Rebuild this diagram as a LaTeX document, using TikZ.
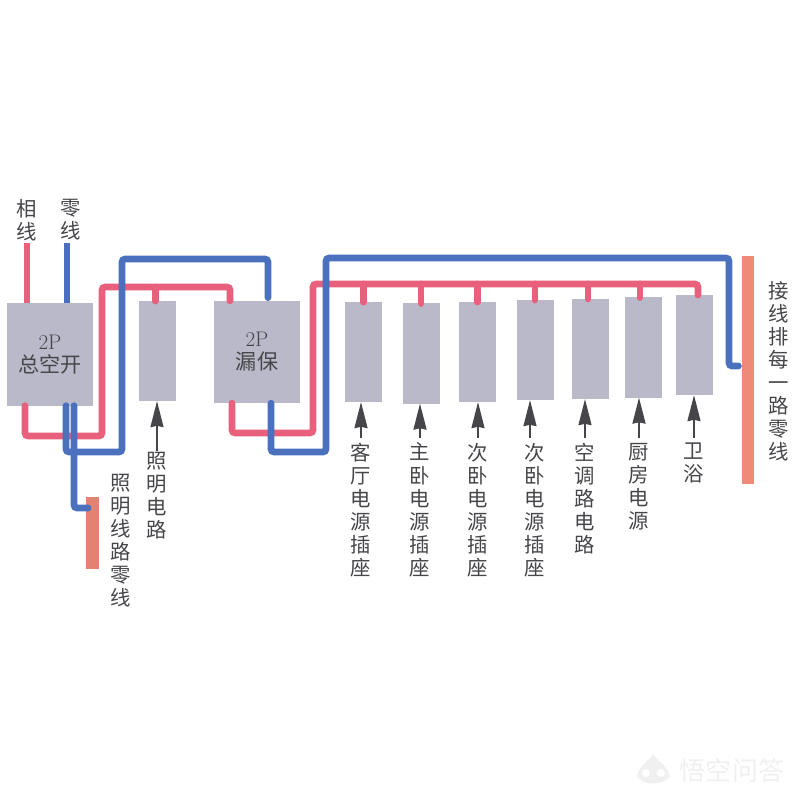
\documentclass[tikz,border=0pt]{standalone}
\usepackage{fontspec}
\usepackage{xcolor}
\usetikzlibrary{arrows.meta}
\newfontfamily\cjk{Noto Sans CJK SC}
\definecolor{wirered}{HTML}{E8607C}
\definecolor{wireblue}{HTML}{4A70BE}
\definecolor{boxgray}{HTML}{B9B9C9}
\definecolor{barorange}{HTML}{EE8A78}
\definecolor{inkgray}{HTML}{46464A}
\definecolor{markgray}{HTML}{F0F0F0}
\tikzset{
  breaker/.style={fill=boxgray, minimum width=2.15cm, minimum height=2.56cm, inner sep=0, outer sep=0, align=center, text=inkgray, font=\fontsize{15}{16.4}\selectfont},
  slot/.style={fill=boxgray, minimum width=.925cm, minimum height=2.5cm, inner sep=0, outer sep=0},
  bar/.style={fill=barorange, minimum width=.32cm, inner sep=0, outer sep=0},
  vlabel/.style={anchor=north, align=center, inner sep=0, outer xsep=0, outer ysep=3.5pt, text=inkgray, font=\cjk\fontsize{14.5}{16.4}\selectfont},
  redwire/.style={draw=wirered, line width=.17cm, rounded corners=.08cm, line cap=round},
  bluewire/.style={draw=wireblue, line width=.17cm, rounded corners=.08cm, line cap=round},
  pointer/.style={draw=inkgray, line width=.06cm, -{Stealth[length=.65cm,width=.32cm,inset=.03cm]}},
}
\begin{document}
\begin{tikzpicture}[x=.025cm,y=-.025cm]
        \useasboundingbox (0,0) rectangle (800,800);
        % breakers and branch slots
        \node[breaker] (total) at (50,354.5) {2P\\{\cjk 总空开}};
        \node[breaker] (leak) at (257,352) {2P\\{\cjk 漏保}};
        \node[slot] (light) at (157.5,351) {};
        \node[slot] (living) at (363.5,352) {};
        \node[slot] (master) at (421,353.5) {};
        \node[slot] (second) at (477.5,352) {};
        \node[slot] (third) at (535,350) {};
        \node[slot] (aircon) at (590,349) {};
        \node[slot] (kitchen) at (643.5,347.5) {};
        \node[slot] (bath) at (694.5,345) {};
        \node[bar, minimum height=5.7cm] (rbar) at (748,370) {};
        \node[bar, minimum height=1.8cm, fill=barorange!95!black] (lbar) at (92.5,533) {};
        % labels
        \node[vlabel] (phase) at (27,194) {相\\线};
        \node[vlabel] (neutral) at (71,194) {零\\线};
        \node[vlabel, outer ysep=1pt] (lightlab) at (157,451) {照\\明\\电\\路};
        \node[vlabel, outer ysep=0pt] (lightzero) at (121,474) {照\\明\\线\\路\\零\\线};
        \node[vlabel] (livinglab) at (361,438) {客\\厅\\电\\源\\插\\座};
        \node[vlabel] (masterlab) at (420,438) {主\\卧\\电\\源\\插\\座};
        \node[vlabel] (secondlab) at (478,438) {次\\卧\\电\\源\\插\\座};
        \node[vlabel] (thirdlab) at (535,438) {次\\卧\\电\\源\\插\\座};
        \node[vlabel] (airconlab) at (585,438) {空\\调\\路\\电\\路};
        \node[vlabel] (kitchenlab) at (639,438) {厨\\房\\电\\源};
        \node[vlabel] (bathlab) at (694,438) {卫\\浴};
        \node[vlabel, outer ysep=0pt, font=\cjk\fontsize{14.5}{16.4}\selectfont] (barlab) at (779,281) {接\\线\\排\\每\\一\\路\\零\\线};
        % red wires
        \coordinate (phasein) at (27,243);
        \coordinate (busa) at (102,287);
        \coordinate (busb) at (313,284);
        \draw[redwire, line cap=butt] (phasein) -- (phasein |- total.north);
        \draw[redwire] ([xshift=-.625cm]total.south) -- (25,436) -- (102,436) -- (busa) -- (230,287) -- ([xshift=-.675cm]leak.north);
        \draw[redwire] ([xshift=-.625cm]leak.south) -- (232,433) -- (313,433) -- (busb) -- (698,284) -- ([xshift=.0875cm]bath.north);
        \draw[redwire] ([xshift=-.06cm]light.north) -- ([xshift=-.06cm]light.north |- busa);
        \draw[redwire] (living.north) -- (living.north |- busb);
        \draw[redwire] (master.north) -- (master.north |- busb);
        \draw[redwire] (second.north) -- (second.north |- busb);
        \draw[redwire] (third.north) -- (third.north |- busb);
        \draw[redwire] ([xshift=-.05cm]aircon.north) -- ([xshift=-.05cm]aircon.north |- busb);
        \draw[redwire] ([xshift=-.09cm]kitchen.north) -- ([xshift=-.09cm]kitchen.north |- busb);
        % blue wires
        \coordinate (neutralin) at (67,243);
        \draw[bluewire, line cap=butt] (neutralin) -- (neutralin |- total.north);
        \draw[bluewire] ([xshift=.4cm]total.south) -- (66,452) -- (122,452) -- (122,259) -- (268,259) -- ([xshift=.275cm,yshift=.08cm]leak.north);
        \draw[bluewire] ([xshift=.6cm]total.south) -- (74,508) -- ([xshift=.05cm,yshift=.625cm]lbar.west);
        \draw[bluewire] ([xshift=.35cm]leak.south) -- (271,452) -- (326,452) -- (326,258) -- (729,258) -- (729,366) -- ([xshift=-.08cm,yshift=.1cm]rbar.west);
        % arrows
        \draw[pointer] (lightlab.north) -- (lightlab.north |- light.south);
        \draw[pointer] (livinglab.north) -- (livinglab.north |- living.south);
        \draw[pointer] (masterlab.north) -- (masterlab.north |- master.south);
        \draw[pointer] (secondlab.north) -- (secondlab.north |- second.south);
        \draw[pointer] ([xshift=-.125cm]thirdlab.north) -- ([xshift=-.125cm]thirdlab.north |- third.south);
        \draw[pointer] (airconlab.north) -- (airconlab.north |- aircon.south);
        \draw[pointer] (kitchenlab.north) -- (kitchenlab.north |- kitchen.south);
        \draw[pointer] (bathlab.north) -- (bathlab.north |- bath.south);
        % corner mark
        \fill[markgray] (637,776) .. controls (640,764) and (648,762) .. (653,754) .. controls (658,762) and (666,764) .. (670,776) .. controls (664,786) and (642,786) .. (637,776) -- cycle;
        \fill[white] (646,773) circle (4);
        \fill[white] (661,773) circle (4);
        \node[text=markgray, inner sep=0, font=\cjk\fontsize{18.5}{20}\selectfont] (mark) at (732,771) {悟空问答};
    \end{tikzpicture}
\end{document}
